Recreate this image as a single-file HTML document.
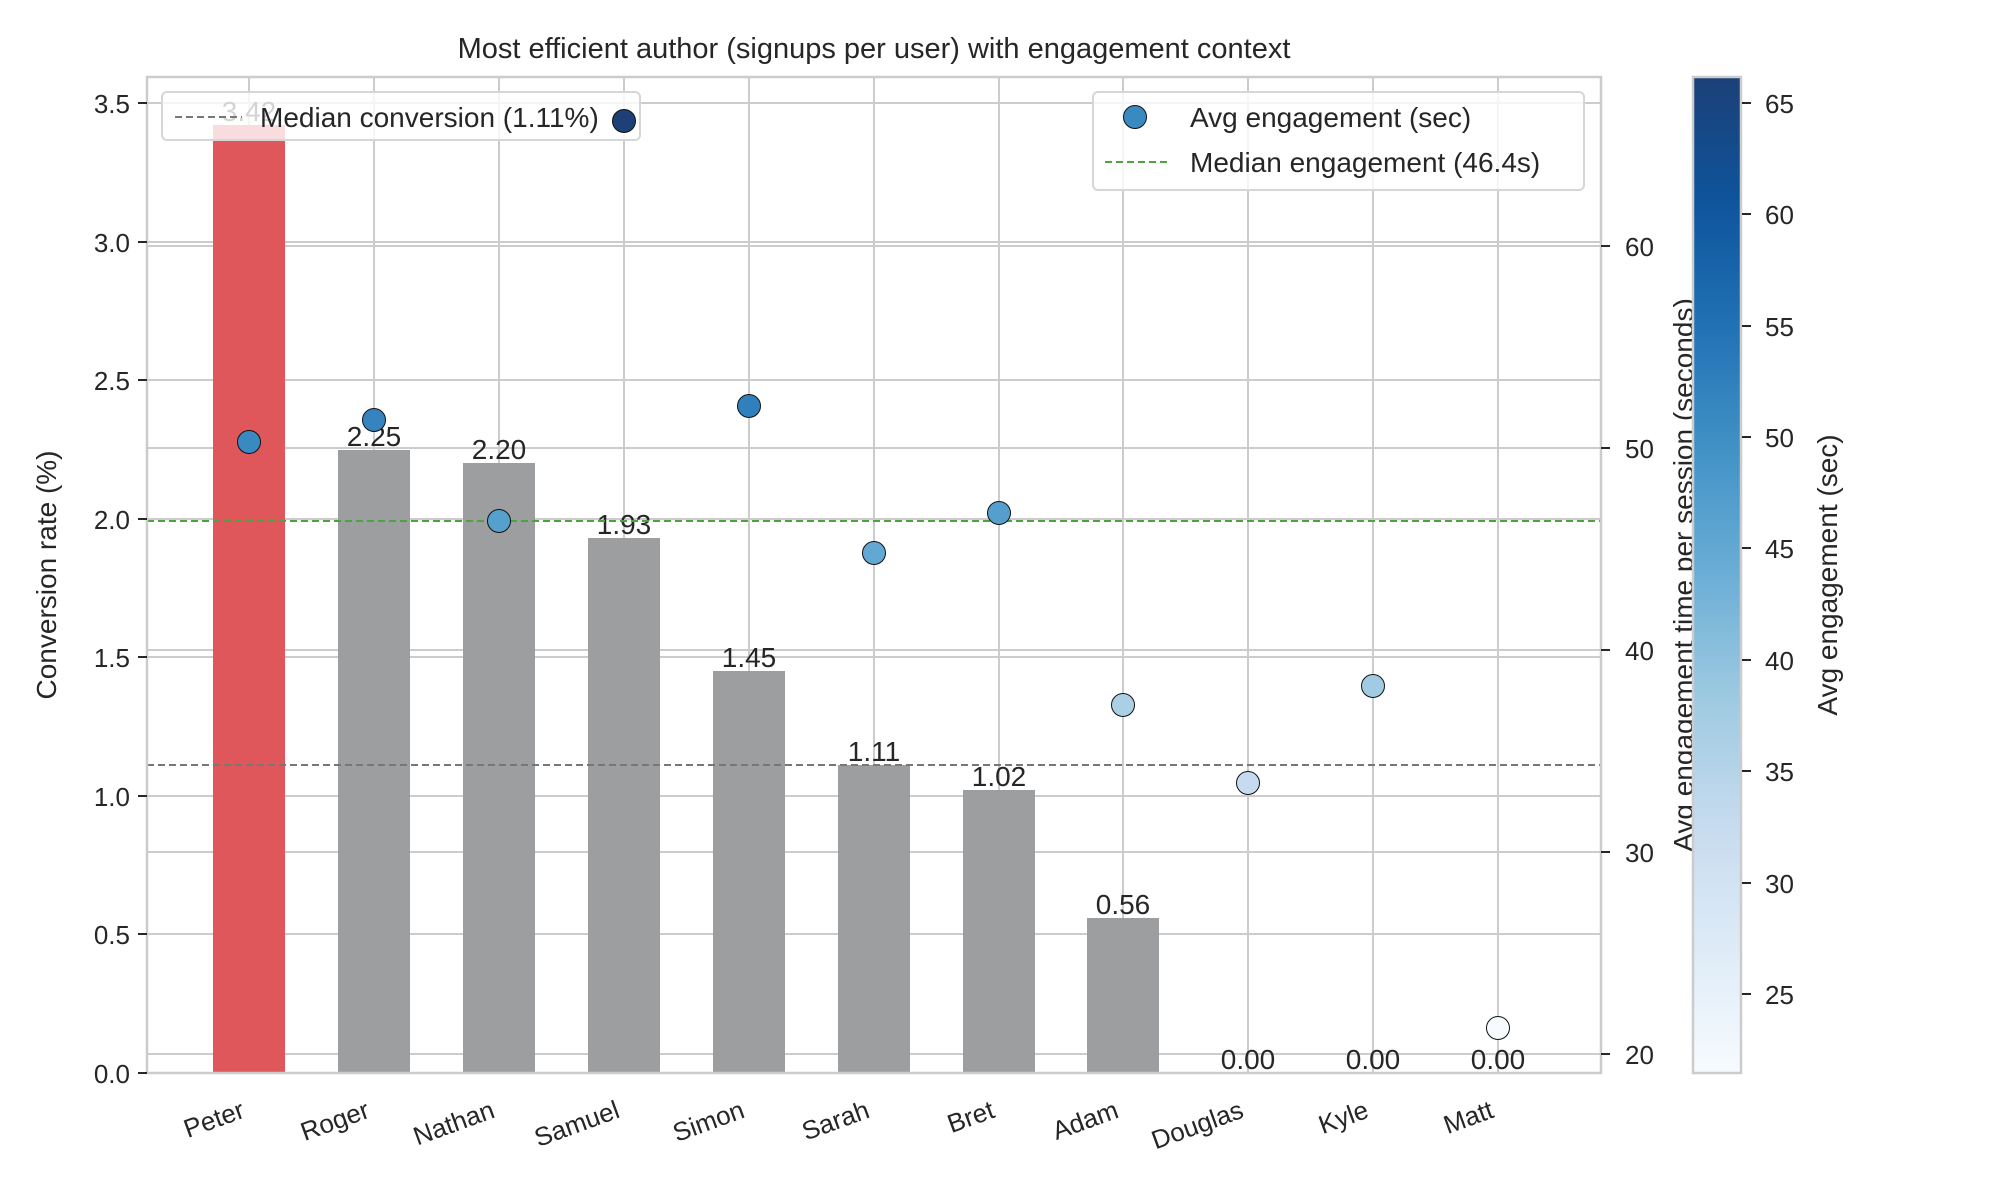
<!DOCTYPE html>
<html><head><meta charset="utf-8"><style>html,body{margin:0;padding:0;background:#fff}svg{display:block}text{font-family:"Liberation Sans","DejaVu Sans",sans-serif;fill:#262626}</style></head>
<body>
<svg width="2000" height="1200" viewBox="0 0 2000 1200" xmlns="http://www.w3.org/2000/svg">
<defs>
<linearGradient id="blues" x1="0" y1="1" x2="0" y2="0">
<stop offset="0" stop-color="#f7fbff"/><stop offset="0.125" stop-color="#deebf7"/><stop offset="0.25" stop-color="#c6dbef"/><stop offset="0.375" stop-color="#9ecae1"/><stop offset="0.5" stop-color="#6baed6"/><stop offset="0.625" stop-color="#4292c6"/><stop offset="0.75" stop-color="#2171b5"/><stop offset="0.875" stop-color="#0e549c"/><stop offset="1" stop-color="#1c4077"/>
</linearGradient>
</defs>
<text x="874" y="58" font-size="29" text-anchor="middle">Most efficient author (signups per user) with engagement context</text>
<g stroke="#cccccc" stroke-width="2">
<line x1="249" y1="77" x2="249" y2="1073"/><line x1="374" y1="77" x2="374" y2="1073"/><line x1="499" y1="77" x2="499" y2="1073"/><line x1="624" y1="77" x2="624" y2="1073"/><line x1="749" y1="77" x2="749" y2="1073"/><line x1="874" y1="77" x2="874" y2="1073"/><line x1="999" y1="77" x2="999" y2="1073"/><line x1="1123" y1="77" x2="1123" y2="1073"/><line x1="1248" y1="77" x2="1248" y2="1073"/><line x1="1373" y1="77" x2="1373" y2="1073"/><line x1="1498" y1="77" x2="1498" y2="1073"/>
<line x1="147" y1="934" x2="1601" y2="934"/><line x1="147" y1="796" x2="1601" y2="796"/><line x1="147" y1="657" x2="1601" y2="657"/><line x1="147" y1="519" x2="1601" y2="519"/><line x1="147" y1="380" x2="1601" y2="380"/><line x1="147" y1="242" x2="1601" y2="242"/><line x1="147" y1="103" x2="1601" y2="103"/>
<line x1="147" y1="1054" x2="1601" y2="1054"/><line x1="147" y1="852" x2="1601" y2="852"/><line x1="147" y1="650" x2="1601" y2="650"/><line x1="147" y1="448" x2="1601" y2="448"/><line x1="147" y1="246" x2="1601" y2="246"/>
</g>
<g>
<rect x="213" y="125" width="72" height="948" fill="#e0575b"/>
<rect x="338" y="450" width="72" height="623" fill="#9d9e9f"/>
<rect x="463" y="463" width="72" height="610" fill="#9d9e9f"/>
<rect x="588" y="538" width="72" height="535" fill="#9d9e9f"/>
<rect x="713" y="671" width="72" height="402" fill="#9d9e9f"/>
<rect x="838" y="765" width="72" height="308" fill="#9d9e9f"/>
<rect x="963" y="790" width="72" height="283" fill="#9d9e9f"/>
<rect x="1087" y="918" width="72" height="155" fill="#9d9e9f"/>
</g>
<g font-size="28" text-anchor="middle">
<text x="249" y="121">3.42</text><text x="374" y="446">2.25</text><text x="499" y="459">2.20</text><text x="624" y="534">1.93</text><text x="749" y="667">1.45</text><text x="874" y="761">1.11</text><text x="999" y="786">1.02</text><text x="1123" y="914">0.56</text><text x="1248" y="1069">0.00</text><text x="1373" y="1069">0.00</text><text x="1498" y="1069">0.00</text>
</g>
<line x1="147" y1="765" x2="1601" y2="765" stroke="#777" stroke-width="2" stroke-dasharray="7,4"/>
<line x1="147" y1="521" x2="1601" y2="521" stroke="#4ea23f" stroke-width="2" stroke-dasharray="7,4"/>
<rect x="162" y="92" width="478" height="48" rx="5" fill="#fff" fill-opacity="0.8" stroke="#d6d6d6" stroke-width="2"/>
<line x1="175" y1="117" x2="242" y2="117" stroke="#777" stroke-width="2" stroke-dasharray="7,4"/>
<text x="260" y="127" font-size="28">Median conversion (1.11%)</text>
<rect x="1093" y="92" width="491" height="98" rx="5" fill="#fff" fill-opacity="0.8" stroke="#d6d6d6" stroke-width="2"/>
<circle cx="1135" cy="117" r="11.5" fill="#3a8ac2" stroke="#111" stroke-width="1"/>
<text x="1190" y="127" font-size="28">Avg engagement (sec)</text>
<line x1="1105" y1="162" x2="1168" y2="162" stroke="#4ea23f" stroke-width="2" stroke-dasharray="7,4"/>
<text x="1190" y="172" font-size="28">Median engagement (46.4s)</text>
<g stroke="#111" stroke-width="1">
<circle cx="249" cy="442" r="11.5" fill="#3a8ac2"/>
<circle cx="374" cy="420" r="11.5" fill="#3584bf"/>
<circle cx="499" cy="521" r="11.5" fill="#56a0ce"/>
<circle cx="624" cy="121" r="11.5" fill="#1c4077"/>
<circle cx="749" cy="406" r="11.5" fill="#3080bd"/>
<circle cx="874" cy="553" r="11.5" fill="#63a8d3"/>
<circle cx="999" cy="513" r="11.5" fill="#549fcd"/>
<circle cx="1123" cy="705" r="11.5" fill="#abd0e6"/>
<circle cx="1248" cy="783" r="11.5" fill="#c6dbef"/>
<circle cx="1373" cy="686" r="11.5" fill="#a0cbe2"/>
<circle cx="1498" cy="1028" r="11.5" fill="#f7fbff"/>
</g>
<rect x="147" y="77" width="1454" height="996" fill="none" stroke="#cccccc" stroke-width="2.5"/>
<g stroke="#262626" stroke-width="2">
<line x1="138" y1="1073" x2="147" y2="1073"/><line x1="138" y1="934" x2="147" y2="934"/><line x1="138" y1="796" x2="147" y2="796"/><line x1="138" y1="657" x2="147" y2="657"/><line x1="138" y1="519" x2="147" y2="519"/><line x1="138" y1="380" x2="147" y2="380"/><line x1="138" y1="242" x2="147" y2="242"/><line x1="138" y1="103" x2="147" y2="103"/>
<line x1="1601" y1="1054" x2="1610" y2="1054"/><line x1="1601" y1="852" x2="1610" y2="852"/><line x1="1601" y1="650" x2="1610" y2="650"/><line x1="1601" y1="448" x2="1610" y2="448"/><line x1="1601" y1="246" x2="1610" y2="246"/>
</g>
<g font-size="26" text-anchor="end">
<text x="130" y="1083">0.0</text><text x="130" y="944">0.5</text><text x="130" y="806">1.0</text><text x="130" y="667">1.5</text><text x="130" y="529">2.0</text><text x="130" y="390">2.5</text><text x="130" y="252">3.0</text><text x="130" y="113">3.5</text>
</g>
<g font-size="26">
<text x="1625" y="1064">20</text><text x="1625" y="862">30</text><text x="1625" y="660">40</text><text x="1625" y="458">50</text><text x="1625" y="256">60</text>
</g>
<text transform="translate(56,575) rotate(-90)" font-size="28" text-anchor="middle">Conversion rate (%)</text>
<text transform="translate(1693,575) rotate(-90)" font-size="28" text-anchor="middle">Avg engagement time per session (seconds)</text>
<g font-size="26" text-anchor="end">
<text transform="translate(240,1100) rotate(-20)" y="18">Peter</text>
<text transform="translate(365,1100) rotate(-20)" y="18">Roger</text>
<text transform="translate(490,1100) rotate(-20)" y="18">Nathan</text>
<text transform="translate(615,1100) rotate(-20)" y="18">Samuel</text>
<text transform="translate(740,1100) rotate(-20)" y="18">Simon</text>
<text transform="translate(865,1100) rotate(-20)" y="18">Sarah</text>
<text transform="translate(990,1100) rotate(-20)" y="18">Bret</text>
<text transform="translate(1114,1100) rotate(-20)" y="18">Adam</text>
<text transform="translate(1239,1100) rotate(-20)" y="18">Douglas</text>
<text transform="translate(1364,1100) rotate(-20)" y="18">Kyle</text>
<text transform="translate(1489,1100) rotate(-20)" y="18">Matt</text>
</g>
<rect x="1693" y="77" width="48" height="996" fill="url(#blues)" stroke="#cccccc" stroke-width="2.5"/>
<g stroke="#262626" stroke-width="2">
<line x1="1742" y1="103" x2="1751" y2="103"/><line x1="1742" y1="214" x2="1751" y2="214"/><line x1="1742" y1="326" x2="1751" y2="326"/><line x1="1742" y1="437" x2="1751" y2="437"/><line x1="1742" y1="548" x2="1751" y2="548"/><line x1="1742" y1="660" x2="1751" y2="660"/><line x1="1742" y1="771" x2="1751" y2="771"/><line x1="1742" y1="883" x2="1751" y2="883"/><line x1="1742" y1="994" x2="1751" y2="994"/>
</g>
<g font-size="26">
<text x="1765" y="113">65</text><text x="1765" y="224">60</text><text x="1765" y="336">55</text><text x="1765" y="447">50</text><text x="1765" y="558">45</text><text x="1765" y="670">40</text><text x="1765" y="781">35</text><text x="1765" y="893">30</text><text x="1765" y="1004">25</text>
</g>
<text transform="translate(1837,575) rotate(-90)" font-size="28" text-anchor="middle">Avg engagement (sec)</text>
</svg>
</body></html>
